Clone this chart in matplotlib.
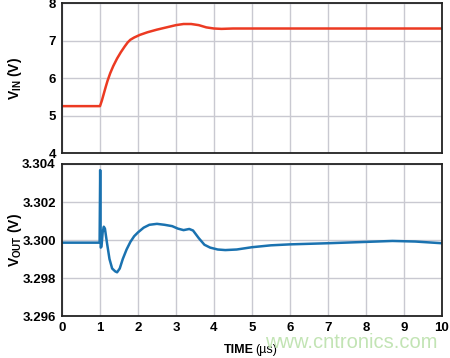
import matplotlib
matplotlib.use("Agg")
import matplotlib.pyplot as plt

plt.rcParams['font.family'] = ['Liberation Sans', 'DejaVu Sans']
plt.rcParams['mathtext.fontset'] = 'custom'
plt.rcParams['mathtext.rm'] = 'Liberation Sans'
plt.rcParams['mathtext.bf'] = 'Liberation Sans:bold'

# ---- data ----
t_vin = [0, 1.0, 1.05, 1.1, 1.15, 1.2, 1.27, 1.35, 1.45, 1.55, 1.65, 1.73, 1.8, 1.9, 2.05,
         2.25, 2.5, 2.75, 3.0, 3.2, 3.4, 3.6, 3.8, 4.0, 4.2, 4.5, 5.0, 10.0]
vin = [5.25, 5.25, 5.4, 5.58, 5.76, 5.93, 6.13, 6.32, 6.52, 6.69, 6.84, 6.95, 7.02, 7.08, 7.15,
       7.22, 7.29, 7.35, 7.41, 7.44, 7.44, 7.41, 7.35, 7.32, 7.31, 7.32, 7.32, 7.32]

t_vout = [0, 0.99, 1.005, 1.02, 1.04, 1.07, 1.1, 1.13, 1.18, 1.25, 1.32, 1.4, 1.45, 1.52, 1.6,
          1.7, 1.8, 1.9, 2.0, 2.15, 2.3, 2.5, 2.7, 2.9, 3.05, 3.2, 3.35, 3.45, 3.6, 3.75, 3.9,
          4.1, 4.3, 4.6, 5.0, 5.5, 6.0, 7.0, 8.0, 8.7, 9.3, 10.0]
vout = [3.29986, 3.29986, 3.30368, 3.2996, 3.29965, 3.3004, 3.3007, 3.3006, 3.2999, 3.2990,
        3.2985, 3.29835, 3.2983, 3.2985, 3.2990, 3.2995, 3.2999, 3.3002, 3.3004, 3.30065,
        3.3008, 3.30085, 3.3008, 3.30073, 3.3006, 3.30052, 3.30058, 3.3005, 3.3001, 3.29975,
        3.2996, 3.2995, 3.29947, 3.2995, 3.29962, 3.29972, 3.29977, 3.29983, 3.2999, 3.29995,
        3.29992, 3.29983]

x_ticks = [0, 1, 2, 3, 4, 5, 6, 7, 8, 9, 10]
vin_ticks = [4, 5, 6, 7, 8]
vout_ticks = [3.296, 3.298, 3.300, 3.302, 3.304]
vout_ticklabels = ['3.296', '3.298', '3.300', '3.302', '3.304']

# ---- figure ----
fig = plt.figure(figsize=(4.5, 3.58), dpi=100)
ax1 = fig.add_axes([0.1378, 0.5726, 0.844, 0.419])
ax2 = fig.add_axes([0.1378, 0.1173, 0.844, 0.4246])

grid_c = '#c9c9d1'
tick_fs = 9.5
for ax in (ax1, ax2):
    ax.set_xlim(0, 10)
    ax.set_xticks(x_ticks)
    ax.grid(True, color=grid_c, lw=1.0)
    ax.set_axisbelow(True)
    ax.tick_params(length=0, labelsize=tick_fs, pad=4.5)
    for s in ax.spines.values():
        s.set_linewidth(1.3)
        s.set_color('#222222')

ax1.plot(t_vin, vin, color='#ec3a22', lw=1.8, solid_joinstyle='round')
ax1.set_ylim(4, 8)
ax1.set_yticks(vin_ticks)
ax1.set_yticklabels([str(v) for v in vin_ticks], fontweight='bold', fontsize=tick_fs)
ax1.set_xticklabels([])

ax2.plot(t_vout, vout, color='#1a72b0', lw=1.8, solid_joinstyle='round')
ax2.set_ylim(3.296, 3.304)
ax2.set_yticks(vout_ticks)
ax2.set_yticklabels(vout_ticklabels, fontweight='bold', fontsize=tick_fs)
ax2.set_xticklabels([str(v) for v in x_ticks], fontweight='bold', fontsize=tick_fs)

fig.text(0.034, 0.7815, r'$\mathbf{V_{IN}}$ (V)', fontsize=10, fontweight='bold',
         rotation=90, ha='center', va='center')
fig.text(0.034, 0.33, r'$\mathbf{V_{OUT}}$ (V)', fontsize=10, fontweight='bold',
         rotation=90, ha='center', va='center')

fig.text(0.498, 0.014, 'TIME', fontsize=9, fontweight='bold', ha='left', va='baseline')
fig.text(0.567, 0.014, '(µs)', fontsize=9, ha='left', va='baseline')
fig.text(0.589, 0.027, 'www.cntronics.com', fontsize=14.5, color='#c2e4b4',
         ha='left', va='baseline')

fig.savefig('out.png', dpi=100)
